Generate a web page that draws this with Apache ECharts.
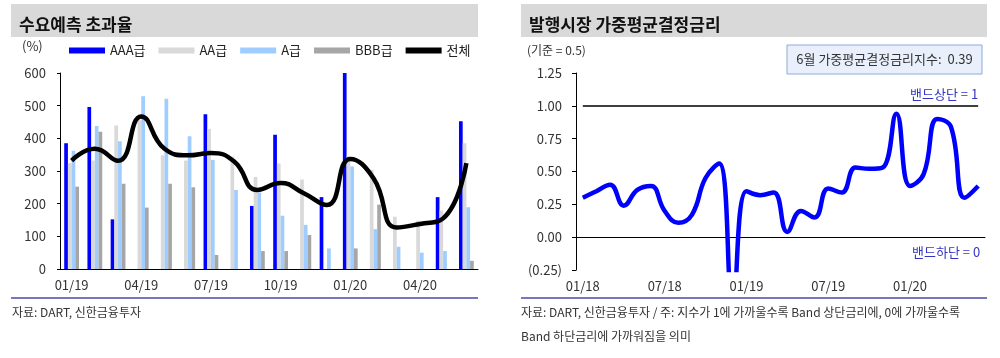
<!DOCTYPE html>
<html><head><meta charset="utf-8">
<script src="https://cdn.jsdelivr.net/npm/echarts@6/dist/echarts.min.js"></script>
<style>html,body{margin:0;padding:0;background:#fff}#c{width:1000px;height:358px}</style>
</head><body><div id="c"></div>
<script>
// ---- Left chart data (수요예측 초과율, %) ----
const monthsL = ['01/19','02/19','03/19','04/19','05/19','06/19','07/19','08/19','09/19','10/19','11/19','12/19','01/20','02/20','03/20','04/20','05/20','06/20'];
const aaa   = [385,496,152,0,0,0,474,0,193,411,0,220,605,0,0,0,220,452];
const aa    = [324,332,439,455,348,332,429,344,282,323,274,0,345,304,160,148,179,385];
const aGrade= [362,438,391,529,521,406,334,242,234,163,135,63,314,122,68,50,55,189];
const bbb   = [252,420,261,188,261,250,43,0,55,55,104,0,63,197,0,0,0,25];
const total = [332,368,331,467,368,348,355,329,242,263,232,196,337,278,127,138,155,324];
const legendNames = ['AAA급','AA급','A급','BBB급','전체'];

// ---- Right chart data (가중평균결정금리 지수) ----
const monthsR = ['01/18','02/18','03/18','04/18','05/18','06/18','07/18','08/18','09/18','10/18','11/18','12/18',
                 '01/19','02/19','03/19','04/19','05/19','06/19','07/19','08/19','09/19','10/19','11/19','12/19',
                 '01/20','02/20','03/20','04/20','05/20','06/20'];
const rateIndex = [0.30,0.35,0.40,0.24,0.36,0.39,0.20,0.11,0.17,0.45,0.56,-0.50,0.35,0.32,0.34,0.04,0.20,0.15,0.37,0.34,0.53,0.52,0.53,0.94,0.39,0.48,0.90,0.84,0.30,0.39];
const bandUpper = 1;
const bandLower = 0;

const FONT = '"Noto Sans CJK KR","Noto Sans",sans-serif';
const chart = echarts.init(document.getElementById('c'), null, {renderer:'canvas'});

const barCommon = {type:'bar', xAxisIndex:0, yAxisIndex:0, barWidth:3.7, barGap:'0%'};

function fmtR(v){ return v < 0 ? '(' + Math.abs(v).toFixed(2) + ')' : v.toFixed(2); }

chart.setOption({
  animation:false,
  textStyle:{fontFamily:FONT},
  grid:[
    {left:60, right:522, top:73, bottom:89},
    {left:576, right:15, top:73, bottom:88}
  ],
  legend:{
    left:64, top:39, itemWidth:36, itemHeight:6, itemGap:13, icon:'rect',
    textStyle:{fontFamily:FONT, fontSize:13, color:'#222'},
    data:legendNames
  },
  xAxis:[
    {gridIndex:0, type:'category', data:monthsL, boundaryGap:true,
     axisLine:{lineStyle:{color:'#000', width:1}},
     axisTick:{interval:2, length:4, lineStyle:{color:'#000'}},
     axisLabel:{interval:2, color:'#333', fontSize:13, margin:10, fontFamily:FONT}},
    {gridIndex:1, type:'category', data:monthsR, boundaryGap:true, position:'bottom',
     axisLine:{onZero:true, lineStyle:{color:'#000', width:1}},
     axisTick:{interval:5, length:4, lineStyle:{color:'#000'}},
     axisLabel:{show:false}},
    {gridIndex:1, type:'category', data:monthsR, boundaryGap:true, position:'bottom',
     axisLine:{show:false, onZero:false}, axisTick:{show:false},
     axisLabel:{interval:5, color:'#333', fontSize:13, margin:10, fontFamily:FONT}}
  ],
  yAxis:[
    {gridIndex:0, type:'value', min:0, max:600, interval:100,
     splitLine:{show:false},
     axisLine:{show:true, lineStyle:{color:'#000', width:1}},
     axisTick:{show:true, length:3, lineStyle:{color:'#000'}},
     axisLabel:{color:'#333', fontSize:13, margin:14, fontFamily:FONT}},
    {gridIndex:1, type:'value', min:-0.25, max:1.25, interval:0.25,
     splitLine:{show:false},
     axisLine:{show:true, lineStyle:{color:'#000', width:1}},
     axisTick:{show:true, length:4, lineStyle:{color:'#000'}},
     axisLabel:{color:'#333', fontSize:13, margin:14, fontFamily:FONT, formatter:fmtR}}
  ],
  series:[
    Object.assign({name:legendNames[0], data:aaa, itemStyle:{color:'#0000ff'}}, barCommon),
    Object.assign({name:legendNames[1], data:aa, itemStyle:{color:'#d9d9d9'}}, barCommon),
    Object.assign({name:legendNames[2], data:aGrade, itemStyle:{color:'#9fcdff'}}, barCommon),
    Object.assign({name:legendNames[3], data:bbb, itemStyle:{color:'#a6a6a6'}}, barCommon),
    {name:legendNames[4], type:'line', xAxisIndex:0, yAxisIndex:0, data:total, smooth:0.5,
     symbol:'none', lineStyle:{color:'#000', width:4.5}, itemStyle:{color:'#000'}, z:5},
    {name:'지수', type:'line', xAxisIndex:1, yAxisIndex:1, data:rateIndex, smooth:0.45,
     symbol:'none', lineStyle:{color:'#0000ff', width:4.5}, itemStyle:{color:'#0000ff'}, clip:true, z:5,
     markLine:{silent:true, symbol:'none', animation:false,
       data:[
         [{coord:[monthsR[0], bandUpper], lineStyle:{color:'#000', width:1.5, type:'solid'},
           label:{show:true, position:'insideEndTop', formatter:'밴드상단 = 1', color:'#3434c4', fontSize:13, fontFamily:FONT, distance:[0,5]}},
          {coord:[monthsR[monthsR.length-1], bandUpper]}],
         [{coord:[monthsR[0], bandLower], lineStyle:{color:'rgba(0,0,0,0)', width:1},
           label:{show:true, position:'insideEndBottom', formatter:'밴드하단 = 0', color:'#3434c4', fontSize:13, fontFamily:FONT, distance:[-2,8]}},
          {coord:[monthsR[monthsR.length-1], bandLower]}]
       ]}}
  ],
  graphic:[
    {type:'rect', shape:{x:11, y:4, width:467, height:33}, style:{fill:'#d9d9d9'}, silent:true},
    {type:'text', x:19, y:25, style:{text:'수요예측 초과율', font:'bold 17px '+FONT, fill:'#111', verticalAlign:'middle'}},
    {type:'rect', shape:{x:521, y:4, width:466, height:33}, style:{fill:'#d9d9d9'}, silent:true},
    {type:'text', x:529, y:25, style:{text:'발행시장 가중평균결정금리', font:'bold 17px '+FONT, fill:'#111', verticalAlign:'middle'}},
    {type:'text', x:22, y:46, style:{text:'(%)', font:'13px '+FONT, fill:'#333', verticalAlign:'middle'}},
    {type:'text', x:527, y:50, style:{text:'(기준 = 0.5)', font:'12px '+FONT, fill:'#333', verticalAlign:'middle'}},
    {type:'rect', shape:{x:787, y:45, width:195, height:29}, style:{fill:'#eaf0fb', stroke:'#8ea9db', lineWidth:1}},
    {type:'text', x:884.5, y:59.5, style:{text:'6월 가중평균결정금리지수:  0.39', font:'13px '+FONT, fill:'#333', align:'center', verticalAlign:'middle'}},
    {type:'line', shape:{x1:11, y1:298, x2:478, y2:298}, style:{stroke:'#4a4aa8', lineWidth:1.5}},
    {type:'line', shape:{x1:521, y1:298, x2:987, y2:298}, style:{stroke:'#4a4aa8', lineWidth:1.5}},
    {type:'text', x:12, y:312, style:{text:'자료: DART, 신한금융투자', font:'12px '+FONT, fill:'#333', verticalAlign:'middle'}},
    {type:'text', x:521, y:312, style:{text:'자료: DART, 신한금융투자 / 주: 지수가 1에 가까울수록 Band 상단금리에, 0에 가까울수록', font:'12px '+FONT, fill:'#333', verticalAlign:'middle'}},
    {type:'text', x:521, y:336, style:{text:'Band 하단금리에 가까워짐을 의미', font:'12px '+FONT, fill:'#333', verticalAlign:'middle'}}
  ]
});
</script>
</body></html>
